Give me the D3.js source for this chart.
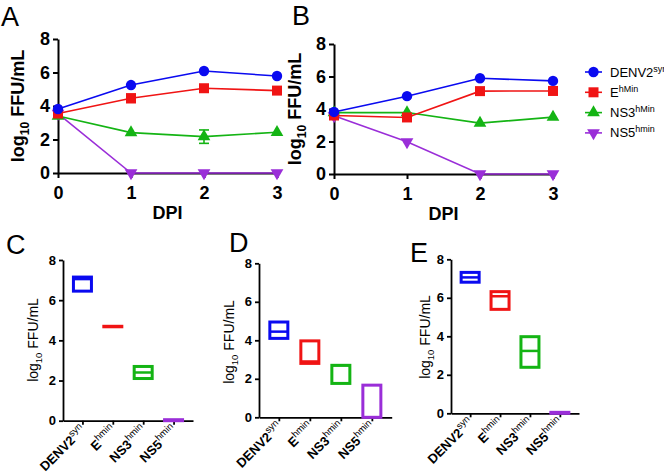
<!DOCTYPE html>
<html><head><meta charset="utf-8">
<script src="https://cdn.jsdelivr.net/npm/d3@7"></script>
<style>
body{margin:0;background:#fff;}
svg{display:block;font-family:"Liberation Sans",Arial,sans-serif;}
</style></head>
<body><svg id="c" width="664" height="474"></svg>
<script>
// ---------- data ----------
const days = [0, 1, 2, 3];
const yTicks = [0, 2, 4, 6, 8];
const seriesNames = ["DENV2", "E", "NS3", "NS5"];
const seriesSup = ["syn", "hMin", "hMin", "hmin"];
const colors = ["#0a0af0", "#f01414", "#14b414", "#9a2ed8"];
const shapes = ["circle", "square", "triangle", "triangleDown"];

// Panel A
const aDENV2 = [3.82, 5.25, 6.09, 5.79];
const aE = [3.55, 4.46, 5.06, 4.92];
const aNS3 = [3.40, 2.41, 2.17, 2.43];
const aNS5 = [3.55, 0, 0, 0];
const aErrE = [0, 0.25, 0, 0];
const aErrNS3 = [0, 0, 0.4, 0];
// Panel B
const bDENV2 = [3.82, 4.79, 5.89, 5.73];
const bE = [3.60, 3.48, 5.10, 5.11];
const bNS3 = [3.78, 3.78, 3.13, 3.50];
const bNS5 = [3.58, 1.98, 0, 0];

// Panels C-E (floating bars min / median / max)
const categories = ["DENV2", "E", "NS3", "NS5"];
const catSup = ["syn", "hmin", "hmin", "hmin"];
const cMin = [6.45, 4.70, 2.10, 0.00];
const cMed = [7.05, 4.70, 2.40, 0.02];
const cMax = [7.15, 4.70, 2.70, 0.05];
const dMin = [4.10, 2.80, 1.76, 0.00];
const dMed = [4.45, 2.90, 2.70, 0.00];
const dMax = [4.95, 3.97, 2.70, 1.67];
const eMin = [6.81, 5.40, 2.39, 0.00];
const eMed = [7.06, 6.08, 3.24, 0.02];
const eMax = [7.32, 6.32, 3.98, 0.05];

// ---------- drawing ----------
const svg = d3.select("#c");
const FONT = '"Liberation Sans",Arial,sans-serif';

function yTitle(g, x, y, size, weight) {
  const t = g.append("text").attr("transform", `translate(${x},${y}) rotate(-90)`)
    .attr("text-anchor", "middle").attr("font-size", size).attr("font-weight", weight)
    .attr("fill", "#000");
  t.append("tspan").text("log");
  t.append("tspan").attr("dy", size * 0.28).attr("font-size", size * 0.68).text("10");
  t.append("tspan").attr("dy", -size * 0.28).text(" FFU/mL");
}

function panelLetter(txt, x, y) {
  svg.append("text").attr("x", x).attr("y", y).attr("font-size", 27)
    .attr("fill", "#000").text(txt);
}

function marker(g, shape, x, y, color) {
  if (shape === "circle") {
    g.append("circle").attr("cx", x).attr("cy", y).attr("r", 5.2).attr("fill", color);
  } else if (shape === "square") {
    g.append("rect").attr("x", x - 5).attr("y", y - 5).attr("width", 10).attr("height", 10).attr("fill", color);
  } else {
    const sym = d3.symbol().type(d3.symbolTriangle).size(70);
    g.append("path").attr("d", sym())
      .attr("transform", `translate(${x},${y})` + (shape === "triangleDown" ? " rotate(180)" : ""))
      .attr("fill", color);
  }
}

function linePanel(opt) {
  const g = svg.append("g");
  const x = d3.scaleLinear().domain([0, 3]).range(opt.xr);
  const y = d3.scaleLinear().domain([0, 8]).range(opt.yr);
  const ya = g.append("g").attr("transform", `translate(${opt.xr[0]},0)`)
    .call(d3.axisLeft(y).tickValues(yTicks).tickSize(5).tickSizeOuter(0).tickPadding(3));
  const xa = g.append("g").attr("transform", `translate(0,${opt.yr[0]})`)
    .call(d3.axisBottom(x).tickValues(days).tickSize(5).tickSizeOuter(0).tickPadding(5).tickFormat(d3.format("d")));
  [ya, xa].forEach(a => {
    a.selectAll("path,line").attr("stroke", "#000").attr("stroke-width", 2);
    a.selectAll("text").attr("font-size", 18).attr("font-weight", "bold").attr("font-family", FONT).attr("fill", "#000");
  });
  xa.selectAll("text").attr("dy", "0.9em");
  yTitle(g, opt.titleX, (opt.yr[0] + opt.yr[1]) / 2, 18, "bold");
  g.append("text").attr("x", (opt.xr[0] + opt.xr[1]) / 2).attr("y", opt.yr[0] + 46)
    .attr("text-anchor", "middle").attr("font-size", 18).attr("font-weight", "bold").text("DPI");
  const line = d3.line().x((d, i) => x(days[i])).y(d => y(d));
  for (let s = 3; s >= 0; s--) {
    const vals = opt.series[s];
    g.append("path").attr("d", line(vals)).attr("fill", "none")
      .attr("stroke", colors[s]).attr("stroke-width", 1.6);
    const err = opt.errs[s];
    if (err) {
      vals.forEach((v, i) => {
        if (!err[i]) return;
        const cx = x(days[i]);
        g.append("line").attr("x1", cx).attr("x2", cx).attr("y1", y(v - err[i])).attr("y2", y(v + err[i]))
          .attr("stroke", colors[s]).attr("stroke-width", 1.6);
        [v - err[i], v + err[i]].forEach(e => g.append("line").attr("x1", cx - 5).attr("x2", cx + 5)
          .attr("y1", y(e)).attr("y2", y(e)).attr("stroke", colors[s]).attr("stroke-width", 1.6));
      });
    }
    vals.forEach((v, i) => marker(g, shapes[s], x(days[i]), y(v), colors[s]));
  }
}

function boxPanel(opt) {
  const g = svg.append("g");
  const x = d3.scalePoint().domain(categories).range(opt.xr).padding(0.64);
  const y = d3.scaleLinear().domain([0, 8]).range(opt.yr);
  const ya = g.append("g").attr("transform", `translate(${opt.xr[0]},0)`)
    .call(d3.axisLeft(y).tickValues(yTicks).tickSize(4).tickSizeOuter(0).tickPadding(3));
  const xa = g.append("g").attr("transform", `translate(0,${opt.yr[0]})`)
    .call(d3.axisBottom(x).tickSize(4).tickSizeOuter(0).tickFormat(""));
  [ya, xa].forEach(a => {
    a.selectAll("path,line").attr("stroke", "#000").attr("stroke-width", 1.8);
    a.selectAll("text").attr("font-size", 13).attr("font-weight", "bold").attr("font-family", FONT).attr("fill", "#000");
  });
  yTitle(g, opt.titleX, opt.titleY, 14, "normal");
  const bw = 18;
  categories.forEach((c, i) => {
    const cx = x(c);
    const top = y(opt.max[i]), bot = y(opt.min[i]);
    g.append("rect").attr("x", cx - bw / 2).attr("y", top).attr("width", bw)
      .attr("height", Math.max(bot - top, 0.5)).attr("fill", "none")
      .attr("stroke", colors[i]).attr("stroke-width", 3);
    g.append("line").attr("x1", cx - bw / 2).attr("x2", cx + bw / 2)
      .attr("y1", y(opt.med[i])).attr("y2", y(opt.med[i]))
      .attr("stroke", colors[i]).attr("stroke-width", 2.5);
    // category label, rotated 45 degrees, ending just below its tick
    const lgp = g.append("g").attr("transform", `translate(${cx + 4},${opt.yr[0] + 10}) rotate(-45)`);
    const t = lgp.append("text").attr("x", 0).attr("y", 0).attr("text-anchor", "end")
      .attr("font-size", 13).attr("font-weight", "bold").attr("fill", "#000");
    t.append("tspan").text(c);
    t.append("tspan").attr("dy", -5.5).attr("font-size", 9.5).attr("font-weight", "normal").text(catSup[i]);
  });
}

linePanel({ xr: [58, 277], yr: [173, 39], titleX: 24,
  series: [aDENV2, aE, aNS3, aNS5], errs: [null, aErrE, aErrNS3, null] });
linePanel({ xr: [334, 553], yr: [174, 44], titleX: 301,
  series: [bDENV2, bE, bNS3, bNS5], errs: [null, null, null, null] });

boxPanel({ xr: [63, 193], yr: [420.7, 260], min: cMin, med: cMed, max: cMax, titleX: 38, titleY: 340 });
boxPanel({ xr: [259, 391.7], yr: [417.3, 263.3], min: dMin, med: dMed, max: dMax, titleX: 234, titleY: 342 });
boxPanel({ xr: [451, 579], yr: [413.3, 259.3], min: eMin, med: eMed, max: eMax, titleX: 430, titleY: 337 });

panelLetter("A", 1, 26);
panelLetter("B", 292, 25);
panelLetter("C", 6, 254);
panelLetter("D", 229, 252);
panelLetter("E", 410, 262);

// legend
const lg = svg.append("g");
seriesNames.forEach((n, i) => {
  const yy = 72 + i * 20.3;
  lg.append("line").attr("x1", 585).attr("x2", 602).attr("y1", yy).attr("y2", yy)
    .attr("stroke", colors[i]).attr("stroke-width", 1.6);
  marker(lg, shapes[i], 593.5, yy, colors[i]);
  const t = lg.append("text").attr("x", 610).attr("y", yy + 4.5).attr("font-size", 13).attr("fill", "#000");
  t.append("tspan").text(n);
  t.append("tspan").attr("dy", -5).attr("font-size", 9).text(seriesSup[i]);
});
</script></body></html>
